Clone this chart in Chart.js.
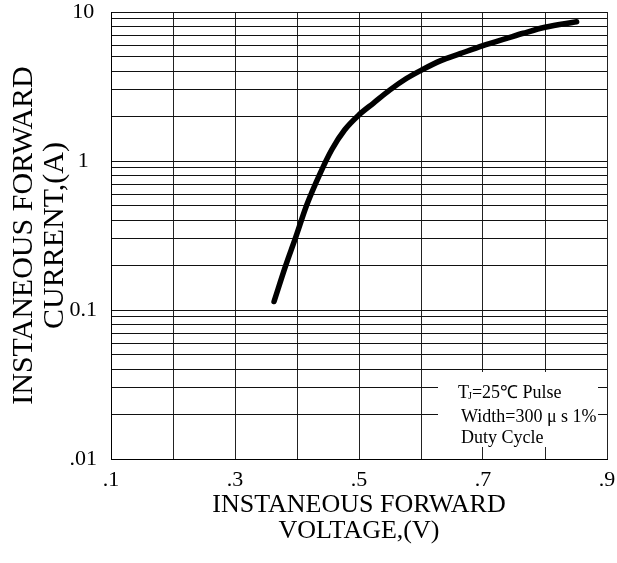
<!DOCTYPE html>
<html>
<head>
<meta charset="utf-8">
<script src="https://cdn.jsdelivr.net/npm/chart.js@4/dist/chart.umd.min.js"></script>
<style>
  html, body { margin: 0; padding: 0; background: #fff; }
  #wrap { width: 617px; height: 563px; }
</style>
</head>
<body>
<div id="wrap"><canvas id="fwdChart"></canvas></div>
<script>
// forward voltage (V) vs instantaneous forward current (A)
var vf  = [0.363, 0.382, 0.397, 0.416, 0.437, 0.456, 0.477, 0.50, 0.523, 0.55, 0.577, 0.601, 0.631, 0.663, 0.70, 0.738, 0.765, 0.80, 0.851];
var ifw = [0.114, 0.20, 0.30, 0.51, 0.82, 1.19, 1.62, 2.04, 2.44, 3.0, 3.59, 4.08, 4.7, 5.25, 5.95, 6.65, 7.2, 7.9, 8.6];

var xTickLabels = ['.1', '', '.3', '', '.5', '', '.7', '', '.9'];
var yLabelValues = [0.01, 0.1, 1, 10];
var yLabelText = ['.01', '0.1', '1', '10'];
var noteLines = ['Width=300 \u03bc s 1%', 'Duty Cycle'];

var serif = '"Liberation Serif", "Times New Roman", serif';

// log grid: 1..9 in every decade plus the top
var yGrid = [];
[0.01, 0.1, 1].forEach(function (d) {
    for (var m = 1; m <= 9; m++) yGrid.push(+(d * m).toPrecision(3));
});
yGrid.push(10);

var points = vf.map(function (v, i) { return { x: v, y: ifw[i] }; });

// keep the plot box where the layout padding puts it
function noOverflow(s) {
    s.paddingTop = 0; s.paddingBottom = 0;
    s.paddingLeft = 0; s.paddingRight = 0;
}

var notePlugin = {
    id: 'note',
    afterDatasetsDraw: function (chart) {
        var ctx = chart.ctx, a = chart.chartArea;
        var x0 = a.right - 169, y0 = a.bottom - 87;
        ctx.save();
        ctx.fillStyle = '#fff';
        ctx.fillRect(x0, y0, 160, 75);
        ctx.fillStyle = '#000';
        ctx.textBaseline = 'middle';
        ctx.font = '18px ' + serif;
        var tx = a.right - 146;
        // first line with subscript J
        ctx.fillText('T', tx - 3, y0 + 21);
        var w = ctx.measureText('T').width;
        ctx.font = '10px ' + serif;
        ctx.fillText('J', tx - 3 + w - 1, y0 + 24);
        var wj = ctx.measureText('J').width;
        ctx.font = '18px ' + serif;
        ctx.fillText('=25\u2103 Pulse', tx - 3 + w - 1 + wj, y0 + 21);
        ctx.fillText(noteLines[0], tx, y0 + 45);
        ctx.fillText(noteLines[1], tx, y0 + 66);
        ctx.restore();
    }
};

new Chart(document.getElementById('fwdChart').getContext('2d'), {
    type: 'line',
    data: {
        datasets: [{
            data: points,
            borderColor: '#000',
            borderWidth: 5.5,
            borderCapStyle: 'round',
            pointRadius: 0,
            cubicInterpolationMode: 'monotone',
            fill: false
        }]
    },
    options: {
        responsive: true,
        maintainAspectRatio: false,
        animation: false,
        layout: { padding: { top: 12, right: 10, left: 0, bottom: 0 } },
        plugins: { legend: { display: false }, tooltip: { enabled: false } },
        scales: {
            x: {
                type: 'linear',
                min: 0.1,
                max: 0.9,
                afterFit: function (s) { s.height = 104; noOverflow(s); },
                ticks: {
                    stepSize: 0.1,
                    autoSkip: false,
                    maxRotation: 0,
                    padding: 8,
                    color: '#000',
                    font: { family: serif, size: 22 },
                    callback: function (v, i) { return xTickLabels[i]; }
                },
                grid: { color: '#222', lineWidth: 1, drawTicks: false },
                border: { color: '#000', width: 1 },
                title: {
                    display: true,
                    text: ['INSTANEOUS FORWARD', 'VOLTAGE,(V)'],
                    color: '#000',
                    font: { family: serif, size: 26, lineHeight: 1.0 },
                    padding: { top: 2, bottom: 19 }
                }
            },
            y: {
                type: 'logarithmic',
                min: 0.01,
                max: 10,
                afterFit: function (s) { s.width = 111; noOverflow(s); },
                afterBuildTicks: function (s) {
                    s.ticks = yGrid.map(function (v) { return { value: v }; });
                },
                ticks: {
                    autoSkip: false,
                    padding: 14,
                    crossAlign: 'center',
                    color: '#000',
                    font: { family: serif, size: 22 },
                    callback: function (v) {
                        var k = yLabelValues.indexOf(+(+v).toPrecision(3));
                        return k >= 0 ? yLabelText[k] : '';
                    }
                },
                grid: { color: '#111', lineWidth: 1, drawTicks: false },
                border: { color: '#000', width: 1 },
                title: {
                    display: true,
                    text: ['INSTANEOUS FORWARD', 'CURRENT,(A)'],
                    color: '#000',
                    font: { family: serif, size: 30, lineHeight: 1.03 },
                    padding: { top: 9 }
                }
            }
        }
    },
    plugins: [notePlugin]
});
</script>
</body>
</html>
